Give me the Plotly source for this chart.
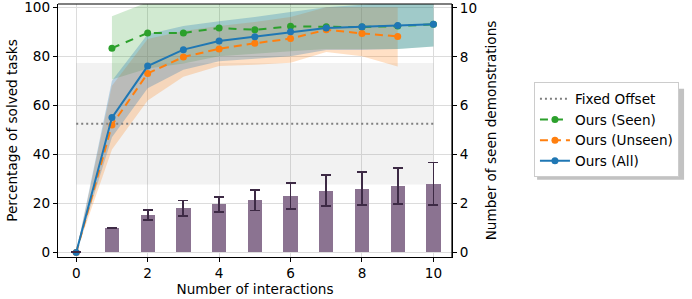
import plotly.graph_objects as go

# ---------------- data ----------------
x_all = [0, 1, 2, 3, 4, 5, 6, 7, 8, 9, 10]
all_mean = [0, 55, 76, 82.7, 86.2, 88, 90, 91.5, 92, 92.5, 93]
all_lo = [0, 47, 67, 74.5, 78, 79, 80, 82.5, 82.5, 83, 84]
all_hi = [0, 70, 89, 92.3, 94.3, 96, 98, 100, 101, 102, 102]

x_seen = [1, 2, 3, 4, 5, 6, 7, 8, 9, 10]
seen_mean = [83.3, 89.5, 89.5, 91.5, 90.8, 92.2, 92, 91.9, 92.3, 93]
seen_lo = [70.5, 75, 77, 80, 81, 82, 83, 83, 83, 84]
seen_hi = [96.3, 102, 103, 103, 103, 104, 104, 104, 104, 104]

x_unseen = [0, 1, 2, 3, 4, 5, 6, 7, 8, 9]
unseen_mean = [0, 52, 73, 79.7, 83, 85.3, 87.2, 90.8, 89.3, 88.1]
unseen_lo = [0, 42, 62, 71.6, 76, 76.5, 77.4, 81.7, 80, 75.8]
unseen_hi = [0, 68, 87, 90.3, 92.3, 94, 96, 100, 100, 100]

x_fixed = [0, 10]
fixed_mean = 52.5
fixed_lo = 27.7
fixed_hi = 77.2

x_bars = [0, 1, 2, 3, 4, 5, 6, 7, 8, 9, 10]
demos = [0, 1.0, 1.53, 1.80, 1.97, 2.13, 2.32, 2.51, 2.60, 2.70, 2.79]
demos_top = [0, 1.0, 1.74, 2.12, 2.28, 2.55, 2.85, 3.15, 3.28, 3.46, 3.68]
demos_bot = [0, 1.0, 1.34, 1.50, 1.64, 1.71, 1.79, 1.89, 1.93, 1.97, 1.95]

x_ticks = [0, 2, 4, 6, 8, 10]
y_ticks = [0, 20, 40, 60, 80, 100]
y2_ticks = [0, 2, 4, 6, 8, 10]

# ---------------- style ----------------
GREEN = "#2ca02c"
ORANGE = "#ff7f0e"
BLUE = "#1f77b4"
FONT = "DejaVu Sans"
FS = 13.6

fig = go.Figure()


def band(xs, lo, hi, color):
    return go.Scatter(
        x=list(xs) + list(xs)[::-1],
        y=list(hi) + list(lo)[::-1],
        fill="toself", fillcolor=color, mode="none",
        line=dict(width=0), showlegend=False, hoverinfo="skip",
    )


fig.add_trace(band(x_fixed, [fixed_lo] * 2, [fixed_hi] * 2, "rgba(128,128,128,0.1)"))
fig.add_trace(band(x_seen, seen_lo, seen_hi, "rgba(44,160,44,0.22)"))
fig.add_trace(band(x_unseen, unseen_lo, unseen_hi, "rgba(255,127,14,0.24)"))
fig.add_trace(band(x_all, all_lo, all_hi, "rgba(31,119,180,0.28)"))

fig.add_trace(go.Scatter(
    x=x_fixed, y=[fixed_mean] * 2, mode="lines", name="Fixed Offset",
    line=dict(color="#7f7f7f", width=2, dash="2px,3px"),
))
fig.add_trace(go.Scatter(
    x=x_seen, y=seen_mean, mode="lines+markers", name="Ours (Seen)",
    line=dict(color=GREEN, width=2, dash="8px,7px"),
    marker=dict(color=GREEN, size=7),
))
fig.add_trace(go.Scatter(
    x=x_unseen, y=unseen_mean, mode="lines+markers", name="Ours (Unseen)",
    line=dict(color=ORANGE, width=2, dash="8px,5px"),
    marker=dict(color=ORANGE, size=7),
))
fig.add_trace(go.Scatter(
    x=x_all, y=all_mean, mode="lines+markers", name="Ours (All)",
    line=dict(color=BLUE, width=2),
    marker=dict(color=BLUE, size=7),
))

fig.add_trace(go.Bar(
    x=x_bars, y=demos, yaxis="y2", width=0.4,
    marker=dict(color="#8b7391", line=dict(width=0)),
    error_y=dict(
        type="data", symmetric=False,
        array=[t - v for t, v in zip(demos_top, demos)],
        arrayminus=[v - b for v, b in zip(demos, demos_bot)],
        color="#3d2a45", thickness=1.8, width=5,
    ),
    showlegend=False, hoverinfo="skip",
))

axis_common = dict(
    showline=True, linecolor="black", linewidth=1.2, mirror=False,
    ticks="outside", ticklen=4, tickwidth=1.2, tickcolor="black",
    tickfont=dict(family=FONT, size=FS, color="black"),
    zeroline=False, automargin=False, ticklabeloverflow="allow",
)

fig.update_layout(
    width=692, height=299,
    margin=dict(l=58, r=240, t=4, b=42),
    paper_bgcolor="white", plot_bgcolor="white",
    font=dict(family=FONT, size=FS, color="black"),
    xaxis=dict(
        range=[-0.51, 10.52], tickvals=x_ticks,
        showgrid=True, gridcolor="#dcdcdc", gridwidth=1,
        title=dict(text="Number of interactions", standoff=3,
                   font=dict(family=FONT, size=FS)),
        **axis_common,
    ),
    yaxis=dict(
        range=[-1.83, 101.3], tickvals=y_ticks,
        showgrid=True, gridcolor="#dcdcdc", gridwidth=1,
        title=dict(text="Percentage of solved tasks", standoff=3,
                   font=dict(family=FONT, size=FS)),
        **axis_common,
    ),
    yaxis2=dict(
        range=[-0.19, 10.16], tickvals=y2_ticks, overlaying="y", side="right",
        showgrid=False,
        title=dict(text="Number of seen demonstrations", standoff=10,
                   font=dict(family=FONT, size=FS)),
        **axis_common,
    ),
    legend=dict(
        x=1.208, y=0.69, xanchor="left", yanchor="top",
        bgcolor="white", bordercolor="#cccccc", borderwidth=1,
        font=dict(family=FONT, size=FS, color="black"),
        itemwidth=30, tracegroupgap=0,
    ),
    showlegend=True,
    bargap=0,
)

fig.add_shape(type="line", xref="paper", yref="paper", x0=0, x1=1, y0=1, y1=1,
              line=dict(color="black", width=1.2))
fig.add_shape(type="line", xref="paper", yref="paper", x0=1, x1=1, y0=0, y1=1,
              line=dict(color="black", width=1.2))
# legend drop shadow (matplotlib shadow=True look)
fig.add_shape(type="rect", xref="paper", yref="paper", layer="below",
              x0=1.216, x1=1.589, y0=0.305, y1=0.665,
              fillcolor="rgba(120,120,120,0.45)", line=dict(width=0))

fig.write_html("out.html", config={"displayModeBar": False},
               post_script="document.body.style.margin='0';document.body.style.overflow='hidden';")
